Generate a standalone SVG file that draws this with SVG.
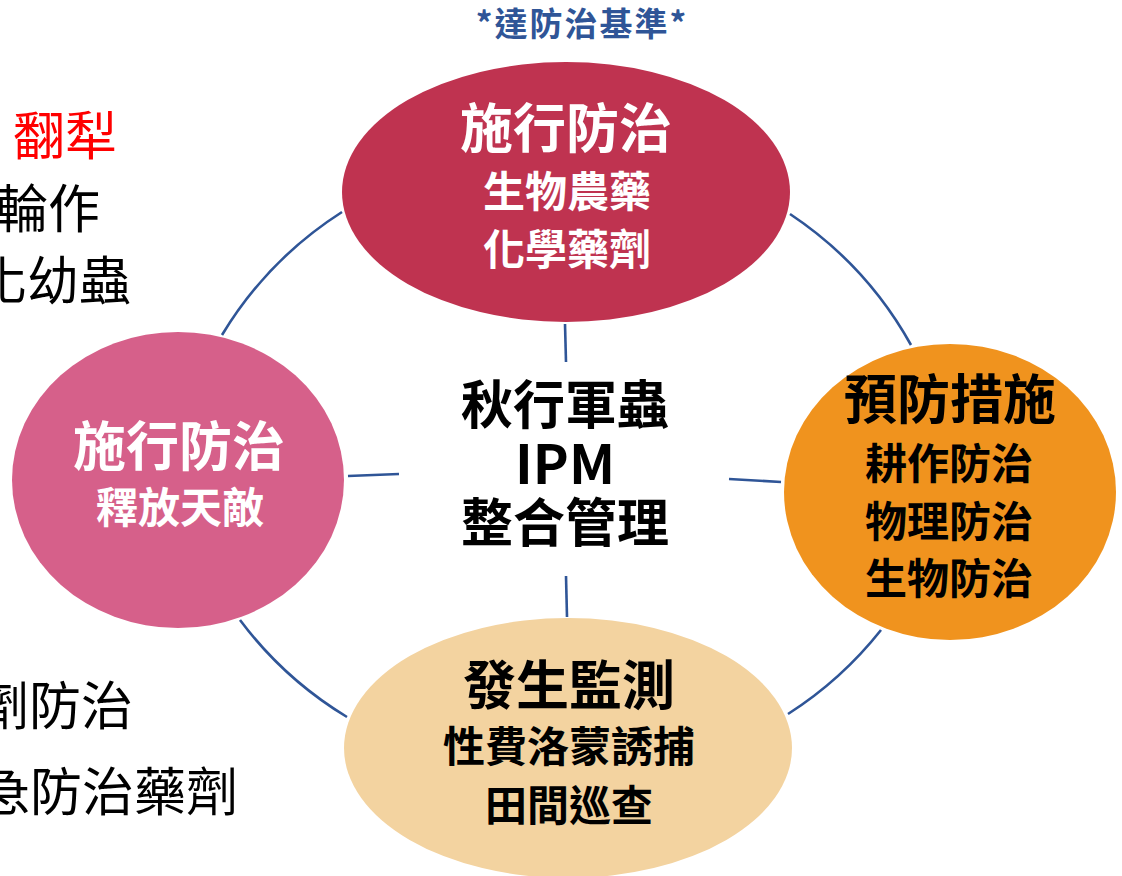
<svg xmlns="http://www.w3.org/2000/svg" width="1122" height="876" viewBox="0 0 1122 876">
<style>
text{font-family:"Noto Sans CJK TC","Noto Sans CJK SC",sans-serif;dominant-baseline:central}
.t{font-weight:bold;font-size:53px;text-anchor:middle}
.s{font-weight:bold;font-size:42px;text-anchor:middle}
.w{fill:#ffffff}
.k{fill:#000000}
.side{font-size:52px;fill:#000000}
.ln{fill:none;stroke:#2F5597;stroke-width:2.6}
</style>
<rect width="1122" height="876" fill="#ffffff"/>
<g id="connectors">
<path class="ln" d="M222,335 A378,378 0 0 1 342,212"/>
<path class="ln" d="M790,214 A378,378 0 0 1 911,345"/>
<path class="ln" d="M881,630 A378,378 0 0 1 788,714"/>
<path class="ln" d="M347,717 A378,378 0 0 1 240,620"/>
<path class="ln" d="M565,324 L566,362"/>
<path class="ln" d="M566,576 L567,617"/>
<path class="ln" d="M729,479 L781,482"/>
<path class="ln" d="M348,476 L399,474"/>
</g>
<g id="label-top">
<text x="582" y="22" style="font-weight:bold;font-size:33px;letter-spacing:2px;fill:#2F5597;text-anchor:middle">*達防治基準*</text>
</g>
<g id="side-notes">
<text x="13" y="132" class="side" style="fill:#FF0000">翻犁</text>
<text x="-4" y="205" class="side">輪作</text>
<text x="-25" y="277" class="side">化幼蟲</text>
<text x="-23" y="702" class="side">劑防治</text>
<text x="-22" y="788" class="side">急防治藥劑</text>
</g>
<g id="node-top">
<ellipse cx="566" cy="192" rx="224" ry="130" fill="#BF3350"/>
<text x="566" y="125" class="t w">施行防治</text>
<text x="567" y="188" class="s w">生物農藥</text>
<text x="567" y="246" class="s w">化學藥劑</text>
</g>
<g id="node-left">
<ellipse cx="178" cy="480" rx="166" ry="148" fill="#D6608A"/>
<text x="179" y="443" class="t w">施行防治</text>
<text x="180" y="504" class="s w">釋放天敵</text>
</g>
<g id="node-right">
<ellipse cx="950" cy="492" rx="166" ry="148" fill="#F0931E"/>
<text x="950" y="396" class="t k">預防措施</text>
<text x="949" y="460" class="s k">耕作防治</text>
<text x="949" y="518" class="s k">物理防治</text>
<text x="949" y="575" class="s k">生物防治</text>
</g>
<g id="node-bottom">
<ellipse cx="568" cy="748" rx="224" ry="130" fill="#F3D3A0"/>
<text x="569" y="682" class="t k">發生監測</text>
<text x="569" y="743" class="s k">性費洛蒙誘捕</text>
<text x="569" y="802" class="s k">田間巡查</text>
</g>
<g id="node-center">
<text x="565" y="401" class="t k" style="font-size:52px">秋行軍蟲</text>
<text x="565" y="460" class="t k" style="font-size:54px">IPM</text>
<text x="565" y="519" class="t k" style="font-size:52px">整合管理</text>
</g>
</svg>
